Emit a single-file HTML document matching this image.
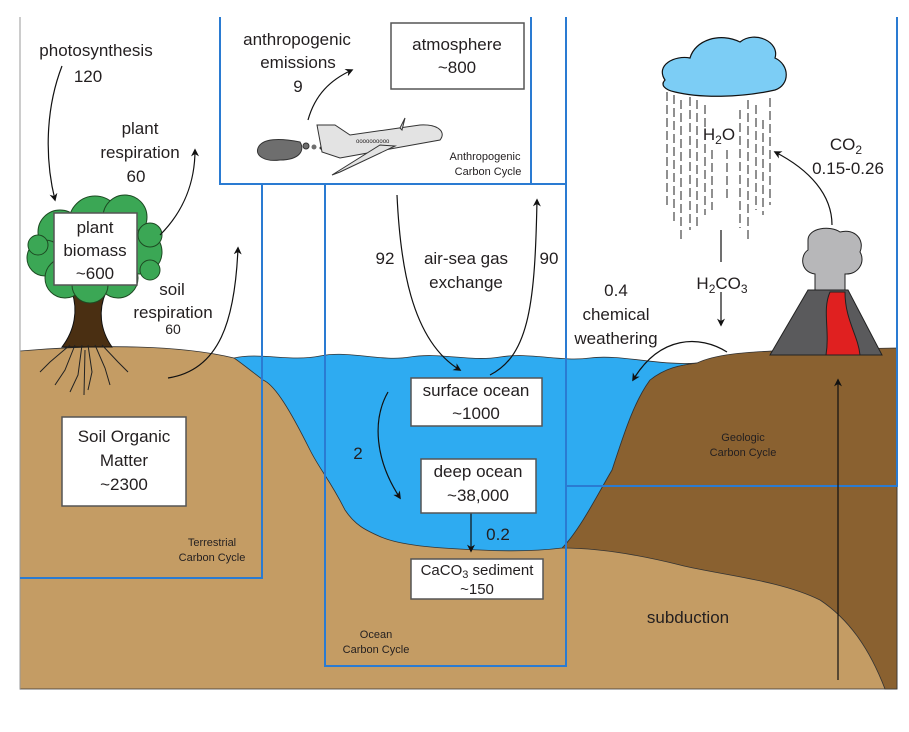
<!DOCTYPE html>
<html><head><meta charset="utf-8"><style>
html,body{margin:0;padding:0;background:#fff;}
svg{display:block;}
text{font-family:"Liberation Sans",sans-serif;fill:#231f20;}
.t{font-size:17px;text-anchor:middle;}
.s{font-size:11px;text-anchor:middle;}
</style></head><body>
<svg width="909" height="732" viewBox="0 0 909 732" xmlns="http://www.w3.org/2000/svg">
<defs>
<marker id="a" viewBox="0 0 10 10" refX="8" refY="5" markerWidth="8" markerHeight="8" orient="auto-start-reverse" markerUnits="userSpaceOnUse">
<path d="M0,0 L10,5 L0,10 L3,5 Z" fill="#111"/></marker>
</defs>
<rect width="909" height="732" fill="#fff"/>
<!-- ground -->
<path d="M20,351 C100,344 180,345 234,358 L600,362 L697,366 L897,366 L897,689 L20,689 Z" fill="#c49c64" stroke="#333" stroke-width="0.8"/>
<path d="M697,363 C720,352 760,352 790,350 L897,348 L897,689 L885,689 C870,650 850,620 820,600 C780,580 720,575 680,565 C640,555 600,548 562,548 C580,530 600,490 612,470 C625,430 635,400 650,380 C665,368 680,365 697,363 Z" fill="#8a6130" stroke="#333" stroke-width="0.8"/>
<path d="M234,358 C260,352 290,362 320,356 C350,350 380,362 410,357 C440,352 470,362 500,357 C530,352 560,362 590,358 C620,354 660,366 697,363 C680,365 665,368 650,380 C635,400 625,430 612,470 C600,490 580,530 562,548 C530,552 500,551 480,550 C430,548 400,545 381,537 C365,530 355,525 345,510 C330,480 320,470 310,450 C290,410 275,385 263,380 C250,370 240,362 234,358 Z" fill="#2eabf1" stroke="#333" stroke-width="0.8"/>
<line x1="20" y1="17" x2="20" y2="689" stroke="#999" stroke-width="1"/>
<!-- blue boxes -->
<g fill="none" stroke="#2a7bd2" stroke-width="2">
<path d="M220,17 V184 H565"/>
<path d="M531,17 V184"/>
<path d="M262,184 V578 H20"/>
<path d="M325,184 V666 H566 V17"/>
<path d="M566,486 H897 V17"/>
</g>
<!-- tree -->
<path d="M72,292 C78,310 75,330 62,347 L112,347 C100,330 98,310 106,292 Z" fill="#4a2f12" stroke="#111" stroke-width="1"/>
<g fill="#3ba755" stroke="#1d4a22" stroke-width="1">
<circle cx="95" cy="222" r="26"/><circle cx="125" cy="217" r="22"/><circle cx="60" cy="232" r="22"/>
<circle cx="45" cy="258" r="18"/><circle cx="140" cy="252" r="22"/><circle cx="65" cy="278" r="20"/>
<circle cx="118" cy="278" r="20"/><circle cx="90" cy="285" r="18"/><circle cx="150" cy="235" r="12"/>
<circle cx="38" cy="245" r="10"/><circle cx="150" cy="270" r="10"/>
</g>
<g stroke="#222" stroke-width="1" fill="none">
<path d="M75,345 L65,370 L55,385"/><path d="M82,345 L78,375 L70,392"/><path d="M88,345 L92,372 L88,390"/>
<path d="M95,345 L105,368 L110,385"/><path d="M102,345 L118,362 L128,372"/><path d="M70,345 L50,362 L40,372"/>
<path d="M85,350 L84,395"/>
</g>
<rect x="54" y="213" width="83" height="72" fill="#fff" stroke="#555" stroke-width="1.5"/>
<text class="t" x="95" y="233">plant</text><text class="t" x="95" y="256">biomass</text><text class="t" x="95" y="279">~600</text>
<!-- plane & smoke -->
<path d="M258,148 C262,138 280,138 300,142 C305,150 300,160 280,160 C265,162 255,156 258,148 Z" fill="#6e6e6e" stroke="#333"/>
<circle cx="306" cy="146" r="3" fill="#6e6e6e" stroke="#333"/><circle cx="314" cy="147" r="2.5" fill="#6e6e6e"/><circle cx="321" cy="148" r="1.5" fill="#333"/>
<path d="M317,125 L335,125 L350,135 L420,125 C440,124 446,133 440,140 L340,158 L322,152 Z" fill="#e3e3e3" stroke="#333" stroke-width="1"/>
<path d="M395,146 L340,172 L332,175 L380,145 Z" fill="#e3e3e3" stroke="#333"/>
<path d="M400,128 L405,118 L402,130 Z" fill="#e3e3e3" stroke="#333"/>
<text x="356" y="143" style="font-size:6px" fill="#555">oooooooooo</text>
<!-- cloud -->
<path d="M665,80 C655,65 675,55 690,58 C695,40 720,32 740,42 C755,30 780,42 775,58 C790,65 790,85 775,90 C740,98 700,98 675,92 C665,90 660,85 665,80 Z" fill="#7ccdf5" stroke="#111" stroke-width="1.2"/>
<g stroke="#222" stroke-width="1" stroke-dasharray="9,4">
<line x1="667" y1="92" x2="667" y2="205"/><line x1="674" y1="95" x2="674" y2="225"/><line x1="681" y1="100" x2="681" y2="240"/>
<line x1="690" y1="97" x2="690" y2="230"/><line x1="697" y1="100" x2="697" y2="228"/><line x1="705" y1="105" x2="705" y2="215"/>
<line x1="740" y1="110" x2="740" y2="228"/><line x1="748" y1="100" x2="748" y2="240"/><line x1="756" y1="105" x2="756" y2="210"/>
<line x1="763" y1="120" x2="763" y2="215"/><line x1="770" y1="98" x2="770" y2="205"/><line x1="727" y1="150" x2="727" y2="200"/>
<line x1="712" y1="150" x2="712" y2="210"/>
</g>
<!-- volcano -->
<path d="M770,355 L808,290 L848,290 L882,355 Z" fill="#5a5a5c" stroke="#222"/>
<path d="M830,292 C822,310 830,330 826,355 L860,355 C858,335 845,320 845,292 Z" fill="#e02020" stroke="#222"/>
<path d="M808,240 C808,228 830,225 840,232 C855,228 865,240 860,252 C866,262 858,275 845,274 L845,290 L815,290 L815,274 C800,272 800,255 808,250 Z" fill="#b7b7b9" stroke="#222"/>
<!-- arrows -->
<g fill="none" stroke="#111" stroke-width="1.2" marker-end="url(#a)">
<path d="M62,66 C45,110 45,160 55,200"/>
<path d="M160,235 C185,210 195,180 195,150"/>
<path d="M168,378 C220,370 235,320 238,248"/>
<path d="M308,120 C315,95 330,80 352,70"/>
<path d="M397,195 C400,260 410,340 460,370"/>
<path d="M490,375 C530,355 535,300 537,200"/>
<path d="M388,392 C372,420 375,460 400,498"/>
<path d="M471,513 V551"/>
<path d="M727,352 C700,335 660,335 633,380"/>
<path d="M721,292 V325"/>
<path d="M832,225 C832,195 810,170 775,152"/>
<path d="M838,680 V380"/>
</g>
<line x1="721" y1="230" x2="721" y2="262" stroke="#111" stroke-width="1.2"/>
<!-- boxes -->
<g fill="#fff" stroke="#555" stroke-width="1.5">
<rect x="391" y="23" width="133" height="66"/>
<rect x="62" y="417" width="124" height="89"/>
<rect x="411" y="378" width="131" height="48"/>
<rect x="421" y="459" width="115" height="54"/>
<rect x="411" y="559" width="132" height="40"/>
</g>
<!-- texts -->
<text class="t" x="96" y="56">photosynthesis</text><text class="t" x="88" y="82">120</text>
<text class="t" x="140" y="134">plant</text><text class="t" x="140" y="158">respiration</text><text class="t" x="136" y="182">60</text>
<text class="t" x="172" y="295">soil</text><text class="t" x="173" y="318">respiration</text><text class="t" x="173" y="334" style="font-size:14px">60</text>
<text class="t" x="297" y="45">anthropogenic</text><text class="t" x="298" y="68">emissions</text><text class="t" x="298" y="92">9</text>
<text class="t" x="457" y="50">atmosphere</text><text class="t" x="457" y="73">~800</text>
<text class="s" x="485" y="160">Anthropogenic</text><text class="s" x="488" y="175">Carbon Cycle</text>
<text class="t" x="385" y="264">92</text><text class="t" x="466" y="264">air-sea gas</text><text class="t" x="466" y="288">exchange</text><text class="t" x="549" y="264">90</text>
<text class="t" x="616" y="296">0.4</text><text class="t" x="616" y="320">chemical</text><text class="t" x="616" y="344">weathering</text>
<text class="t" x="719" y="140">H<tspan font-size="12" dy="4">2</tspan><tspan dy="-4">O</tspan></text>
<text class="t" x="846" y="150">CO<tspan font-size="12" dy="4">2</tspan></text><text class="t" x="848" y="174">0.15-0.26</text>
<text class="t" x="722" y="289">H<tspan font-size="12" dy="4">2</tspan><tspan dy="-4">CO</tspan><tspan font-size="12" dy="4">3</tspan></text>
<text class="t" x="476" y="396">surface ocean</text><text class="t" x="476" y="419">~1000</text>
<text class="t" x="478" y="477">deep ocean</text><text class="t" x="478" y="501">~38,000</text>
<text class="t" x="124" y="442">Soil Organic</text><text class="t" x="124" y="466">Matter</text><text class="t" x="124" y="490">~2300</text>
<text class="t" x="358" y="459">2</text><text class="t" x="498" y="540">0.2</text>
<text class="t" x="477" y="575" style="font-size:15px">CaCO<tspan font-size="11" dy="3">3</tspan><tspan dy="-3"> sediment</tspan></text><text class="t" x="477" y="594" style="font-size:15px">~150</text>
<text class="s" x="743" y="441">Geologic</text><text class="s" x="743" y="456">Carbon Cycle</text>
<text class="s" x="212" y="546">Terrestrial</text><text class="s" x="212" y="561">Carbon Cycle</text>
<text class="s" x="376" y="638">Ocean</text><text class="s" x="376" y="653">Carbon Cycle</text>
<text class="t" x="688" y="623">subduction</text>
</svg>
</body></html>
